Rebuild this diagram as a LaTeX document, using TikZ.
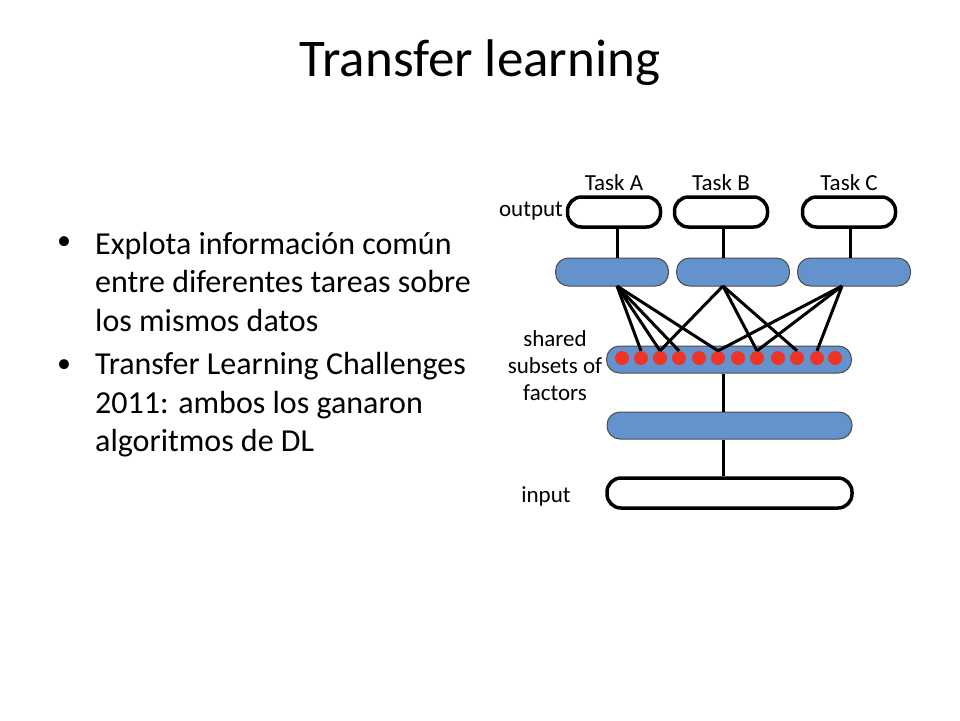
\documentclass[tikz,border=0pt]{standalone}
\usepackage{fontspec}
\setmainfont{Carlito}
\usetikzlibrary{positioning}
\definecolor{layerblue}{RGB}{99,146,204}
\definecolor{unitred}{RGB}{238,52,36}
\begin{document}
\begin{tikzpicture} [
                x=1pt, y=-1pt,
                outbox/.style = {draw, line width=3.5pt, rounded corners=14pt, inner sep=0pt},
                layer/.style = {draw=black!70, fill=layerblue, line width=1pt, rounded corners=13pt, inner sep=0pt},
                unit/.style = {circle, fill=unitred, minimum size=14pt, inner sep=0pt},
                edge/.style = {draw, line width=3pt},
                lbl/.style = {font=\fontsize{23}{26}\selectfont, align=center},
                bullet text/.style = {anchor=west, font=\fontsize{32}{38.5}\selectfont, align=left, inner sep=0pt}
            ]
        \useasboundingbox (0,0) rectangle (960,720);
        % Title and bullets
            \node (title) at (480,63) {\fontsize{53}{60}\selectfont Transfer learning};
            \node[bullet text] (bullets) at (95,282)
                {Explota información común\\entre diferentes tareas sobre\\los mismos datos};
            \node[bullet text] (bullets2) at (95,405)
                {Transfer Learning Challenges\\2011: ambos los ganaron\\algoritmos de DL};
            \node (b1) at (64,243) {\fontsize{28}{30}\selectfont •};
            \node (b2) at (64,366) {\fontsize{28}{30}\selectfont •};
        % Output boxes and task specific layers
            \foreach \name/\x/\hx in {A/614/612, B/721/733, C/849/854} {
                \node[outbox, minimum width=93pt, minimum height=30pt] (out\name) at (\x,212) {};
                \node[layer, minimum width=113pt, minimum height=28pt] (hid\name) at (\hx,272) {};
                \node[lbl] (task\name) at (\x,183) {Task \name};
            }
            \node[lbl] (outlbl) at (531,211) {output};
        % Shared layers and input
            \node[layer, minimum width=245pt, minimum height=27pt] (shared) at (729,359.5) {};
            \node[layer, minimum width=245pt, minimum height=27pt] (lower) at (729.5,425.5) {};
            \node[outbox, minimum width=245pt, minimum height=30pt] (input) at (729.5,493) {};
            \node[lbl, font=\fontsize{23}{27}\selectfont] (sharedlbl) at (555,366) {shared\\subsets of\\factors};
            \node[lbl] (inlbl) at (546,496) {input};
        % Shared units
            \foreach \i/\x in {1/622,2/641,3/660,4/679,5/699,6/718,7/738,8/757,9/778,10/797,11/817,12/835}
                \node[unit] (u\i) at (\x,358) {};
        % Connections
            \foreach \name/\x in {A/617, B/723, C/850}
                \path[edge] (out\name.south -| \x,0) -- (hid\name.north -| \x,0);
            \path[edge] (shared.south -| 723,0) -- (lower.north -| 723,0);
            \path[edge] (lower.south -| 723,0) -- (input.north -| 723,0);
            \coordinate (srcA) at (617,286);
            \coordinate (srcB) at (723,286);
            \coordinate (srcC) at (842,286);
            \foreach \source/\dest in {A/2, A/3, A/4, A/6, B/3, B/8, B/10, C/6, C/8, C/11}
                \path[edge] (src\source) -- (u\dest.north);
        \end{tikzpicture}
\end{document}
